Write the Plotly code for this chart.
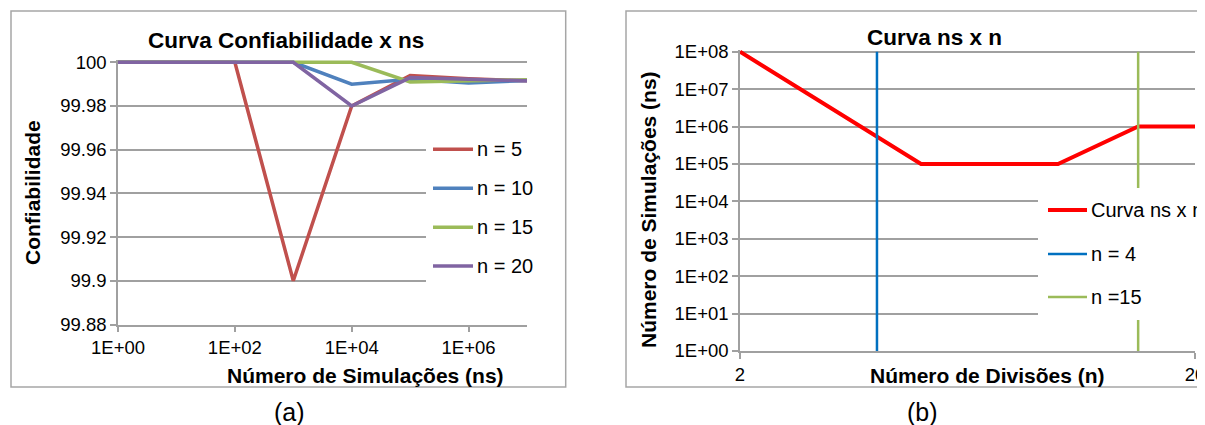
import math
import plotly.graph_objects as go

W, H = 1205, 425
OFF = 8  # default page body margin: the figure div starts 8px in from the window corner

# ---------------- data: chart (a) ----------------
ns_values = [1, 10, 100, 1e3, 1e4, 1e5, 1e6, 1e7]
conf_n5 = [100, 100, 100, 99.900, 99.980, 99.9940, 99.9925, 99.9915]
conf_n10 = [100, 100, 100, 100, 99.990, 99.9922, 99.9905, 99.9917]
conf_n15 = [100, 100, 100, 100, 100, 99.9910, 99.9915, 99.9920]
conf_n20 = [100, 100, 100, 100, 99.980, 99.9930, 99.9922, 99.9915]
series_a_names = ["n = 5", "n = 10", "n = 15", "n = 20"]
a_xtickvals = [1, 100, 1e4, 1e6]
a_xticktext = ["1E+00", "1E+02", "1E+04", "1E+06"]
a_yticks = [99.88, 99.90, 99.92, 99.94, 99.96, 99.98, 100]
a_yticktext = ["99.88", "99.9", "99.92", "99.94", "99.96", "99.98", "100"]

# ---------------- data: chart (b) ----------------
n_div = [2, 5, 10, 15, 20]
ns_needed = [1e8, 1e5, 1e5, 1e6, 1e6]
vline_n4_x = [4, 4]
vline_n15_x = [15, 15]
vline_y = [1, 1e8]
series_b_names = ["Curva ns x n", "n = 4", "n =15"]
b_xtickvals = [2, 20]
b_xticktext = ["2", "20"]
b_ytickvals = [10 ** k for k in range(9)]
b_yticktext = ["1E+%02d" % k for k in range(9)]


def px(x):
    return (x - OFF) / W


def py(y):
    return 1 - (y - OFF) / H


GRID = "#A0A0A0"
FRAME = "#A6A6A6"
FONT = "Liberation Sans, Arial, sans-serif"

fig = go.Figure()

colors_a = ["#C0504D", "#4F81BD", "#9BBB59", "#8064A2"]
widths_a = [3.5, 3.5, 3.5, 3.5]
for name, vals, c, w in zip(series_a_names, [conf_n5, conf_n10, conf_n15, conf_n20], colors_a, widths_a):
    fig.add_trace(go.Scatter(x=ns_values, y=vals, mode="lines", name=name,
                             line=dict(color=c, width=w), xaxis="x", yaxis="y",
                             showlegend=False))

colors_b = ["#FF0000", "#0070C0", "#9BBB59"]
widths_b = [4, 2.5, 2.5]
for name, xs, ys, c, w in zip(series_b_names,
                              [n_div, vline_n4_x, vline_n15_x],
                              [ns_needed, vline_y, vline_y], colors_b, widths_b):
    fig.add_trace(go.Scatter(x=xs, y=ys, mode="lines", name=name,
                             line=dict(color=c, width=w), xaxis="x2", yaxis="y2",
                             showlegend=False))

tickfont = dict(family=FONT, size=18.5, color="#000000")
common = dict(showline=True, linecolor=GRID, linewidth=1.5, ticks="outside",
              ticklen=6, tickcolor=GRID, tickwidth=1.5, tickfont=tickfont,
              zeroline=False, automargin=False, fixedrange=True)

# chart (a) axes; extend top a little so the 100 line isn't clipped
a_ppx = 0.02 / 43.7
a_top = 100 + 2.2 * a_ppx
fig.update_layout(
    xaxis=dict(type="log", range=[0, 7], domain=[px(118), px(527)],
               tickvals=a_xtickvals, ticktext=a_xticktext, showgrid=False,
               anchor="y", **common),
    yaxis=dict(range=[99.88, a_top], domain=[py(324.5), py(62.3 - 2.2)],
               tickvals=a_yticks, ticktext=a_yticktext, showgrid=True,
               gridcolor=GRID, gridwidth=1.5, anchor="x", **common),
    xaxis2=dict(type="log", range=[math.log10(2), math.log10(20)],
                domain=[px(740), px(1195)], tickvals=b_xtickvals,
                ticktext=b_xticktext, showgrid=False, anchor="y2", **common),
    yaxis2=dict(type="log", range=[0, 8.06], domain=[py(351), py(51.7 - 2.2)],
                tickvals=b_ytickvals, ticktext=b_yticktext, showgrid=True,
                gridcolor=GRID, gridwidth=1.5, anchor="x2", **common),
)

shapes = [
    # frames
    dict(type="rect", xref="paper", yref="paper", x0=px(11), x1=px(565.7),
         y0=py(387), y1=py(11), line=dict(color=FRAME, width=1.5), layer="below"),
    dict(type="rect", xref="paper", yref="paper", x0=px(626), x1=px(1225),
         y0=py(387), y1=py(11), line=dict(color=FRAME, width=1.5), layer="below"),
    # legend backgrounds (mask grid lines)
    dict(type="rect", xref="paper", yref="paper", x0=px(426), x1=px(529),
         y0=py(292), y1=py(128), fillcolor="white", line=dict(width=0), layer="above"),
    dict(type="rect", xref="paper", yref="paper", x0=px(1038), x1=px(1213),
         y0=py(320), y1=py(188), fillcolor="white", line=dict(width=0), layer="above"),
]


def ann(text, x, y, size, bold=False, angle=0, xanchor="center"):
    return dict(text=("<b>%s</b>" % text) if bold else text, x=px(x), y=py(y),
                xref="paper", yref="paper", showarrow=False, textangle=angle,
                xanchor=xanchor, yanchor="middle",
                font=dict(family=FONT, size=size, color="#000000"))


annotations = [
    ann("Curva Confiabilidade x ns", 286, 40, 22.5, bold=True),
    ann("Confiabilidade", 32, 193, 21, bold=True, angle=-90),
    ann("Número de Simulações (ns)", 365, 375, 21, bold=True),
    ann("(a)", 289, 412, 25),
    ann("Curva ns x n", 934, 37, 22.5, bold=True),
    ann("Número de Simulações (ns)", 648, 210, 21, bold=True, angle=-90),
    ann("Número de Divisões (n)", 987, 375, 21, bold=True),
    ann("(b)", 922, 412, 25),
]

# legend keys (a)
leg_a_y = [149.3, 188.3, 227.3, 266]
for name, c, w, yy in zip(series_a_names, colors_a, widths_a, leg_a_y):
    shapes.append(dict(type="line", xref="paper", yref="paper", x0=px(433), x1=px(473),
                       y0=py(yy), y1=py(yy), line=dict(color=c, width=w), layer="above"))
    annotations.append(ann(name, 475, yy, 20, xanchor="left"))

# legend keys (b)
leg_b_y = [210, 254, 297]
for name, c, w, yy in zip(series_b_names, colors_b, widths_b, leg_b_y):
    shapes.append(dict(type="line", xref="paper", yref="paper", x0=px(1048), x1=px(1087),
                       y0=py(yy), y1=py(yy), line=dict(color=c, width=w), layer="above"))
    annotations.append(ann(name, 1089, yy, 20, xanchor="left"))

fig.update_layout(width=W, height=H, margin=dict(l=0, r=0, t=0, b=0, pad=0),
                  paper_bgcolor="white", plot_bgcolor="white",
                  shapes=shapes, annotations=annotations, showlegend=False,
                  font=dict(family=FONT))

fig.write_html("out.html", config=dict(displayModeBar=False))
